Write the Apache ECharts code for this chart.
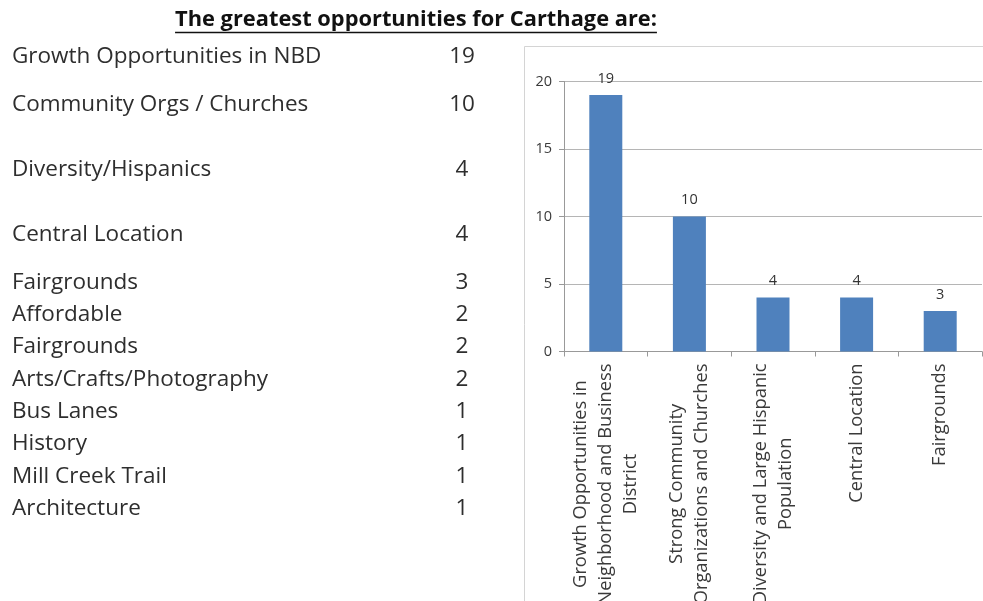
<!DOCTYPE html>
<html>
<head>
<meta charset="utf-8">
<title>The greatest opportunities for Carthage</title>
<script src="https://cdn.jsdelivr.net/npm/echarts@6/dist/echarts.min.js"></script>
<style>
  html, body { margin: 0; padding: 0; background: #ffffff; }
  #chart { width: 983px; height: 601px; }
</style>
</head>
<body>
<div id="chart"></div>
<script>
// Survey tally: the full list of answers and their counts
const listItems = [
  'Growth Opportunities in NBD',
  'Community Orgs / Churches',
  'Diversity/Hispanics',
  'Central Location',
  'Fairgrounds',
  'Affordable',
  'Fairgrounds',
  'Arts/Crafts/Photography',
  'Bus Lanes',
  'History',
  'Mill Creek Trail',
  'Architecture'
];
const listCounts = [19, 10, 4, 4, 3, 2, 2, 2, 1, 1, 1, 1];

// Top five answers, shown as columns
const categories = [
  'Growth Opportunities in\nNeighborhood and Business\nDistrict',
  'Strong Community\nOrganizations and Churches',
  'Diversity and Large Hispanic\nPopulation',
  'Central Location',
  'Fairgrounds'
];
const counts = [19, 10, 4, 4, 3];

// Value axis range
const yMin = 0;
const yMax = 20;
const yStep = 5;

const titleText = 'The greatest opportunities for Carthage are:';

// Layout of the text list on the left
const listRowY = [57, 105, 170, 235, 283, 315, 347, 380, 412, 444, 477, 509];
const listTextX = 12;
const listCountX = 462;

const FONT = '"Open Sans", "Noto Sans", sans-serif';
const TEXT_COLOR = '#2e2e2e';
const LIST_FONT = '22.5px ' + FONT;

function measure(text, font) {
  const ctx = document.createElement('canvas').getContext('2d');
  ctx.font = font;
  return ctx.measureText(text).width;
}

// Title sized to span its column, centred above the page
const titleTargetWidth = 482;
const titleCenterX = 416;
const titleY = 20;
const titleFontSize = Math.min(24, 20 * titleTargetWidth / measure(titleText, 'bold 20px ' + FONT));
const titleWidth = measure(titleText, 'bold ' + titleFontSize + 'px ' + FONT);

const graphics = [];

// Title and its underline
graphics.push({
  type: 'text',
  x: titleCenterX,
  y: titleY,
  style: {
    text: titleText,
    font: 'bold ' + titleFontSize + 'px ' + FONT,
    fill: '#111111',
    align: 'center',
    verticalAlign: 'middle'
  }
});
graphics.push({
  type: 'line',
  shape: {
    x1: titleCenterX - titleWidth / 2, y1: titleY + 12.5,
    x2: titleCenterX + titleWidth / 2, y2: titleY + 12.5
  },
  style: { stroke: '#111111', lineWidth: 1.5 }
});

// Answer list with counts
listItems.forEach(function (item, i) {
  graphics.push({
    type: 'text',
    x: listTextX,
    y: listRowY[i],
    style: {
      text: item,
      font: LIST_FONT,
      fill: TEXT_COLOR,
      align: 'left',
      verticalAlign: 'middle'
    }
  });
  graphics.push({
    type: 'text',
    x: listCountX,
    y: listRowY[i],
    style: {
      text: String(listCounts[i]),
      font: LIST_FONT,
      fill: TEXT_COLOR,
      align: 'center',
      verticalAlign: 'middle'
    }
  });
});

// Frame around the column chart
graphics.push({
  type: 'rect',
  shape: { x: 524.5, y: 46.5, width: 480, height: 600 },
  style: { fill: 'none', stroke: '#d4d4d4', lineWidth: 1 },
  z: -1
});

const chart = echarts.init(document.getElementById('chart'), null, { renderer: 'canvas' });

chart.setOption({
  animation: false,
  backgroundColor: '#ffffff',
  textStyle: { fontFamily: FONT },
  graphic: graphics,
  grid: {
    left: 564,
    right: 1,
    top: 81.5,
    bottom: 249.5,
    containLabel: false,
    outerBoundsMode: 'none'
  },
  xAxis: {
    type: 'category',
    data: categories,
    axisLine: { lineStyle: { color: '#999999', width: 1 } },
    axisTick: { show: true, length: 5, lineStyle: { color: '#999999' } },
    axisLabel: {
      interval: 0,
      rotate: 90,
      margin: 12,
      color: '#3a3a3a',
      formatter: function (value) {
        return value.split('\n').map(function (line) {
          return '{c|' + line + '}';
        }).join('\n');
      },
      rich: {
        c: {
          align: 'center',
          fontSize: 18.3,
          lineHeight: 25,
          fontFamily: FONT,
          color: '#3a3a3a'
        }
      }
    }
  },
  yAxis: {
    type: 'value',
    min: yMin,
    max: yMax,
    interval: yStep,
    axisLine: { show: true, lineStyle: { color: '#999999', width: 1 } },
    axisTick: { show: true, length: 5, lineStyle: { color: '#999999' } },
    axisLabel: {
      margin: 12,
      fontSize: 14.5,
      color: '#3a3a3a',
      fontFamily: FONT
    },
    splitLine: { show: true, lineStyle: { color: '#b5b5b5', width: 1 } }
  },
  series: [{
    type: 'bar',
    data: counts,
    barWidth: 33,
    itemStyle: { color: '#4f81bd' },
    label: {
      show: true,
      position: 'top',
      distance: 9,
      fontSize: 14.5,
      color: '#333333',
      fontFamily: FONT
    }
  }]
});
</script>
</body>
</html>
